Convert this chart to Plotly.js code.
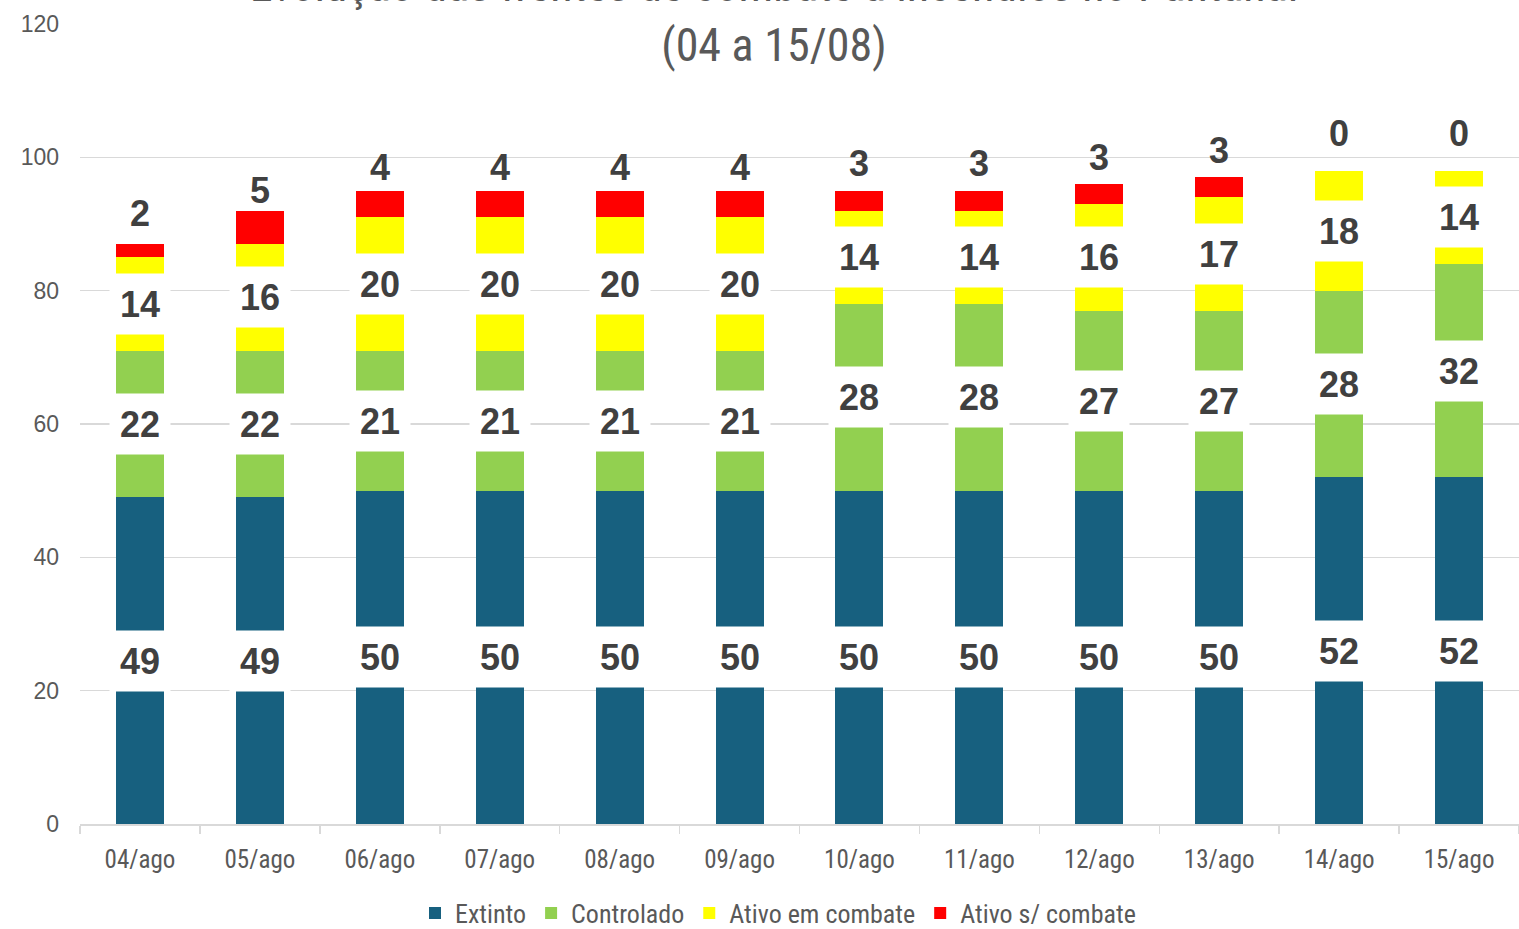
<!DOCTYPE html>
<html>
<head>
<meta charset="utf-8">
<script src="https://cdn.plot.ly/plotly-3.0.1.min.js"></script>
<style>
html,body{margin:0;padding:0;background:#fff;}
#chart{width:1519px;height:929px;}
</style>
</head>
<body>
<div id="chart"></div>
<script>
var categories = ["04/ago","05/ago","06/ago","07/ago","08/ago","09/ago","10/ago","11/ago","12/ago","13/ago","14/ago","15/ago"];
var extinto = [49,49,50,50,50,50,50,50,50,50,52,52];
var controlado = [22,22,21,21,21,21,28,28,27,27,28,32];
var ativoEmCombate = [14,16,20,20,20,20,14,14,16,17,18,14];
var ativoSemCombate = [2,5,4,4,4,4,3,3,3,3,0,0];
var seriesNames = ["Extinto","Controlado","Ativo em combate","Ativo s/ combate"];
var seriesColors = ["#17607F","#92D050","#FFFF00","#FF0000"];

var narrow = "Liberation Sans Narrow, Roboto Condensed, Arial Narrow, Roboto, sans-serif";
var seriesData = [extinto, controlado, ativoEmCombate, ativoSemCombate];

var traces = seriesData.map(function(vals, i){
  return {
    type: "bar",
    name: seriesNames[i],
    x: categories,
    y: vals,
    marker: {color: seriesColors[i], line: {width: 0}},
    hoverinfo: "x+y+name"
  };
});

var annotations = [];
var base = categories.map(function(){return 0;});
seriesData.forEach(function(vals, si){
  vals.forEach(function(v, ci){
    var mid = base[ci] + v / 2;
    var isTop = (si === seriesData.length - 1);
    var a = {
      x: categories[ci], y: mid, xref: "x", yref: "y",
      text: String(v), showarrow: false,
      font: {family: "Liberation Sans, Arial, sans-serif", size: 36, color: "#404040", weight: "bold"}
    };
    if (isTop) {
      a.yshift = 37;
    } else {
      a.bgcolor = "#ffffff";
      a.width = 58; a.height = 58; a.borderpad = 1;
      a.valign = "middle";
    }
    annotations.push(a);
    base[ci] += v;
  });
});

var layout = {
  width: 1519, height: 929,
  margin: {l: 80, r: 0, t: 24, b: 105, autoexpand: false},
  paper_bgcolor: "#ffffff", plot_bgcolor: "#ffffff",
  barmode: "stack",
  bargap: 0.6,
  title: {
    text: "Evolução das frentes de combate a incêndios no Pantanal<br>(04 a 15/08)",
    font: {family: narrow, size: 46, color: "#595959"},
    x: 774 / 1519, xanchor: "center", xref: "container",
    yref: "container", y: 1 - 1 / 929, yanchor: "bottom"
  },
  xaxis: {
    type: "category", automargin: false,
    showline: true, linecolor: "#d9d9d9", linewidth: 1.5,
    ticks: "outside", tickson: "boundaries", ticklen: 8, tickcolor: "#d9d9d9", tickwidth: 1.5,
    tickfont: {family: narrow, size: 25, color: "#595959"},
    ticklabelstandoff: 12,
    showgrid: false
  },
  yaxis: {
    range: [0, 120], dtick: 20, tick0: 0, automargin: false,
    showgrid: true, gridcolor: "#d9d9d9", gridwidth: 1.5,
    zeroline: false, showline: false, ticks: "",
    tickfont: {family: "Liberation Sans, Arial, sans-serif", size: 23, color: "#595959"},
    ticklabelstandoff: 20
  },
  legend: {
    orientation: "h", x: 778 / 1519, xanchor: "center", xref: "container",
    y: (929 - 913) / 929, yanchor: "middle", yref: "container",
    font: {family: narrow, size: 26, color: "#595959"},
    traceorder: "normal", itemwidth: 30
  },
  annotations: annotations,
  showlegend: true
};

Plotly.newPlot("chart", traces, layout, {displayModeBar: false, staticPlot: true});
</script>
</body>
</html>
